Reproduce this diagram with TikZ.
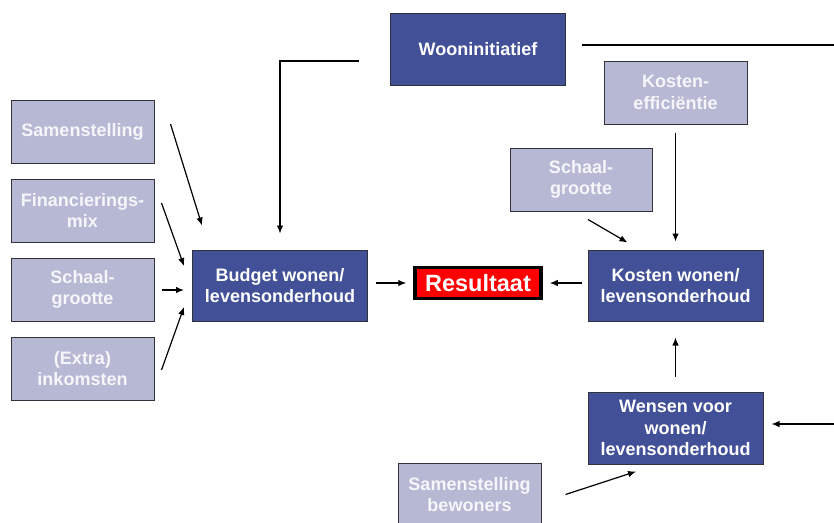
\documentclass[tikz,border=0pt]{standalone}
\usepackage{fontspec}
\setmainfont{Liberation Sans}
\usetikzlibrary{arrows.meta}
\definecolor{darkbox}{RGB}{66,80,152}
\definecolor{lightbox}{RGB}{182,184,212}
\definecolor{lighttext}{RGB}{246,246,250}
\definecolor{boxedge}{RGB}{50,50,60}
\begin{document}
\begin{tikzpicture}[x=1pt,y=-1pt,
  base/.style={draw=boxedge,line width=1pt,align=center,inner sep=0pt,
    font=\fontsize{18}{21.5}\selectfont\bfseries},
  lbox/.style={base,fill=lightbox,text=lighttext,minimum width=143pt,minimum height=63pt},
  dbox/.style={base,fill=darkbox,text=white,minimum width=175pt,minimum height=71pt},
  rbox/.style={draw=black,line width=3.5pt,fill=red,text=white,inner sep=0pt,
    minimum width=126pt,minimum height=31pt,font=\fontsize{23.5}{26}\selectfont\bfseries},
  arr/.style={line width=1.2pt,-{Latex[length=8pt,width=6.5pt]}},
  ln/.style={line width=1.2pt}]
\useasboundingbox (0,0) rectangle (834,522);
\clip (0,0) rectangle (834,522);
% left inputs
\node[lbox] (samen) at (82.5,131.5) {Samenstelling};
\node[lbox] (fin) at (82.5,210.5) {Financierings-\\mix};
\node[lbox] (schaalL) at (82.5,289.5) {Schaal-\\grootte};
\node[lbox] (extra) at (82.5,368.5) {(Extra)\\inkomsten};
% main boxes
\node[dbox] (budget) at (280,285.5) {Budget wonen/\\levensonderhoud};
\node[dbox,minimum height=72pt] (woon) at (478,49) {Wooninitiatief};
\node[lbox] (kosteneff) at (675.5,92.5) {Kosten-\\efficiëntie};
\node[lbox,minimum width=142pt] (schaalR) at (581,179.5) {Schaal-\\grootte};
\node[dbox] (kosten) at (675.5,285.5) {Kosten wonen/\\levensonderhoud};
\node[rbox] (result) at (478,283) {Resultaat};
\node[dbox,minimum height=72pt] (wensen) at (675.5,428) {Wensen voor\\wonen/\\levensonderhoud};
\node[lbox] (bewoners) at (469.5,494.5) {Samenstelling\\bewoners};
% free ends
\coordinate (rightA) at (834,45);
\coordinate (rightB) at (834,424);
% connectors
\draw[arr] ([xshift=16pt,yshift=7.5pt]samen.east) -- ([xshift=10pt,yshift=24pt]budget.north west);
\draw[arr] ([xshift=7pt,yshift=7.5pt]fin.east) -- ([xshift=-8pt,yshift=19.5pt]budget.west);
\draw[arr] ([xshift=7pt,yshift=-0.5pt]schaalL.east) -- ([xshift=-8pt,yshift=-4.5pt]budget.west);
\draw[arr] ([xshift=7pt,yshift=-1.5pt]extra.east) -- ([xshift=-8pt,yshift=-21.5pt]budget.west);
\draw[arr] ([xshift=-31pt,yshift=-12pt]woon.west) -| ([yshift=16pt]budget.north);
\draw[ln] ([xshift=16pt,yshift=4pt]woon.east) -- (rightA);
\draw[arr] ([xshift=8pt,yshift=2.5pt]budget.east) -- ([xshift=-7pt]result.west);
\draw[arr] ([xshift=-6pt,yshift=2.5pt]kosten.west) -- ([xshift=7pt]result.east);
\draw[arr] ([xshift=7pt,yshift=-8pt]schaalR.south) -- ([xshift=40pt,yshift=7pt]kosten.north west);
\draw[arr] ([yshift=-8pt]kosteneff.south) -- ([yshift=8pt]kosten.north);
\draw[arr] ([yshift=15pt]wensen.north) -- ([yshift=-16pt]kosten.south);
\draw[arr] (rightB) -- ([xshift=8pt,yshift=4pt]wensen.east);
\draw[arr] ([xshift=24pt]bewoners.east) -- ([xshift=-39.5pt,yshift=-7pt]wensen.south);
\end{tikzpicture}
\end{document}
